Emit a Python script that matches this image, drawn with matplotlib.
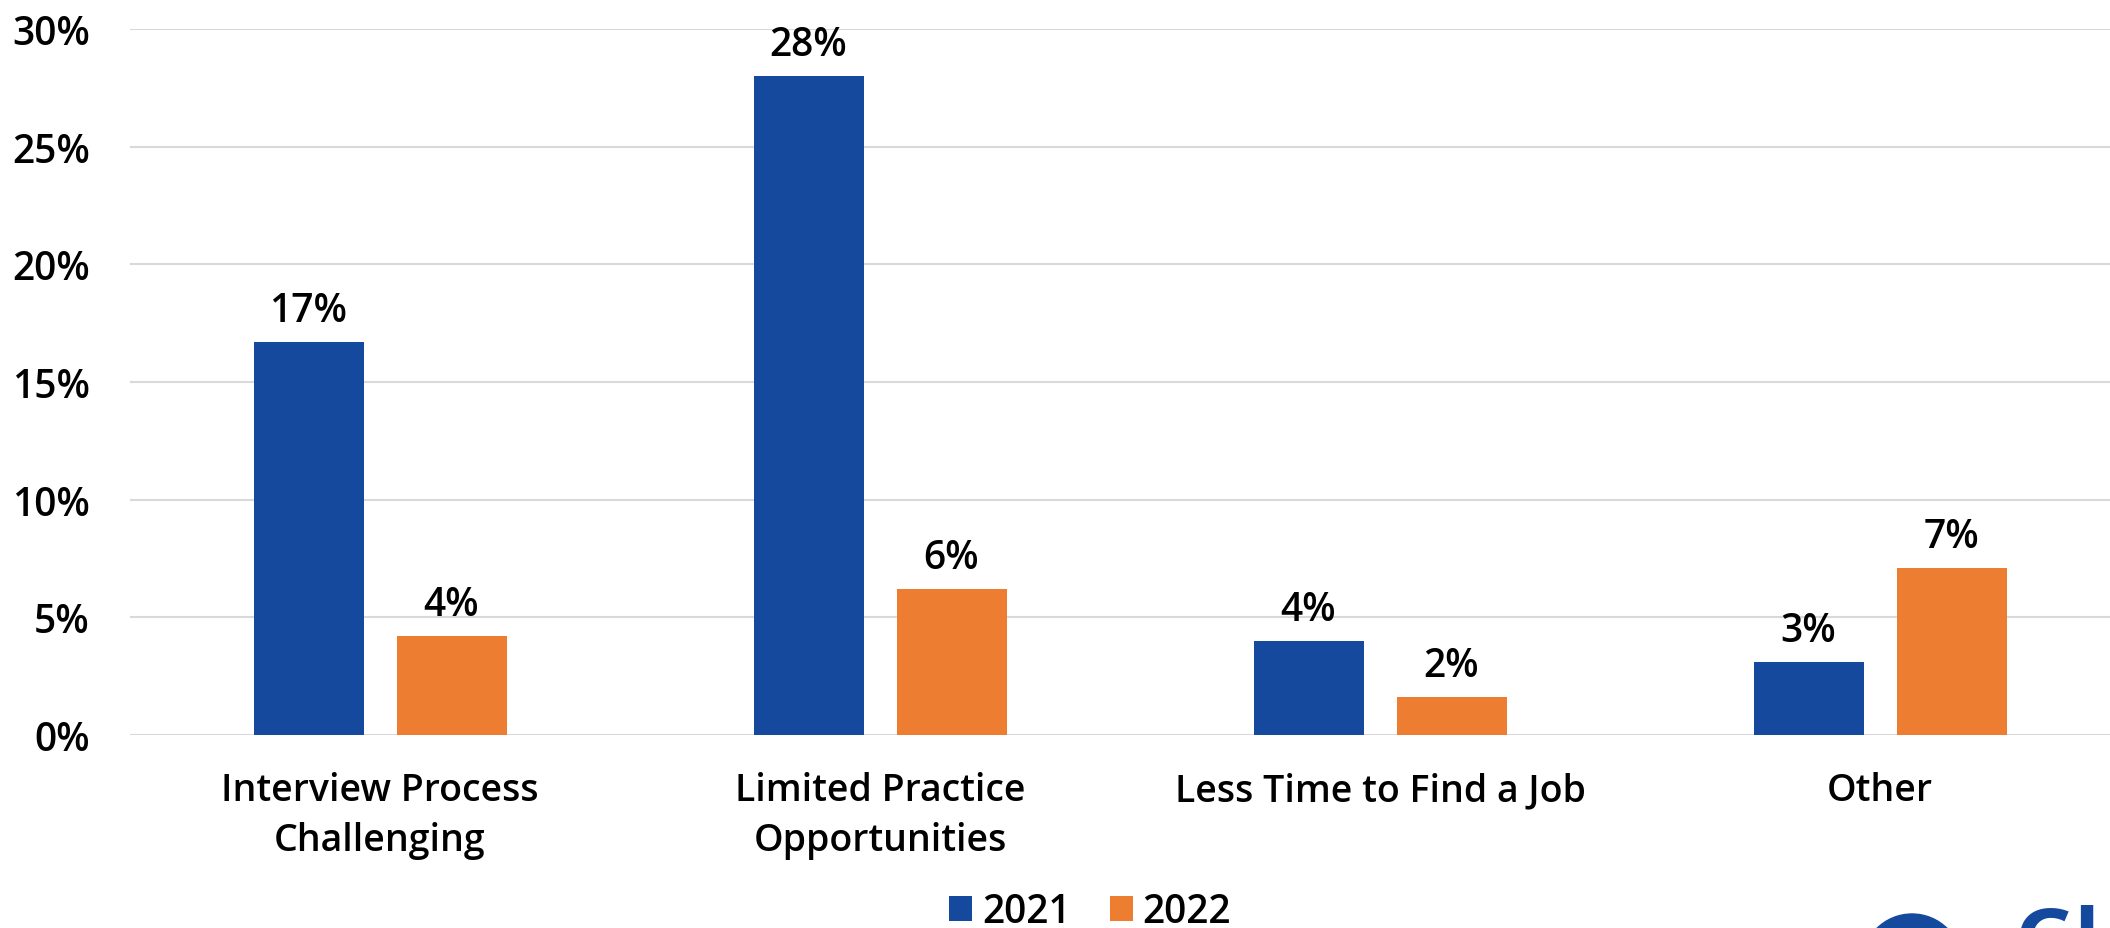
import matplotlib
matplotlib.use("Agg")
import matplotlib.pyplot as plt
from matplotlib.patches import Ellipse
import numpy as np

categories = ["Interview Process\nChallenging", "Limited Practice\nOpportunities",
              "Less Time to Find a Job", "Other"]
series_names = ["2021", "2022"]
values_2021 = [16.7, 28.0, 4.0, 3.1]
values_2022 = [4.2, 6.2, 1.6, 7.1]
yticks = [0, 5, 10, 15, 20, 25, 30]

blue = "#15499D"
orange = "#ED7D31"
grid_c = "#D9D9D9"

plt.rcParams['font.family'] = ['Open Sans', 'DejaVu Sans']
FS = 28
W, H = 2110, 929
fig = plt.figure(figsize=(W / 100, H / 100), dpi=100)
ax = fig.add_axes([130 / W, (H - 736) / H, 2000 / W, 706 / H])

x = np.arange(len(categories))
bw = 0.22
off = 0.143
b1 = ax.bar(x - off, values_2021, bw, color=blue, label=series_names[0], zorder=3)
b2 = ax.bar(x + off, values_2022, bw, color=orange, label=series_names[1], zorder=3)

for bars, vals in ((b1, values_2021), (b2, values_2022)):
    for rect, v in zip(bars, vals):
        ax.annotate(f"{v:.0f}%", (rect.get_x() + rect.get_width() / 2, v),
                    xytext=(0, 8), textcoords="offset points", ha="center", va="bottom",
                    fontsize=FS, fontweight="semibold", color="black")

ax.set_xlim(-0.5, len(categories) - 0.5)
ax.set_ylim(0, 30)
ax.set_yticks(yticks)
ax.set_yticklabels([f"{t}%" for t in yticks], fontsize=FS, fontweight="semibold")
ax.set_xticks(x)
ax.set_xticklabels(categories, fontsize=27, fontweight="semibold", linespacing=1.42)
ax.tick_params(axis="y", length=0, pad=29)
ax.tick_params(axis="x", length=0, pad=26)
ax.yaxis.grid(True, color=grid_c, linewidth=1.5, zorder=0)
for s in ax.spines.values():
    s.set_visible(False)

leg = fig.legend(handles=[b1, b2], labels=series_names, loc="center",
                 bbox_to_anchor=(1090 / W, (H - 913) / H), ncol=2, frameon=False,
                 prop={"size": FS, "weight": "semibold"}, handlelength=0.6, handleheight=0.6,
                 handletextpad=0.25, columnspacing=1.0)

# partial logo at the bottom right
fig.patches.append(Ellipse((1912 / W, (H - 965) / H), 100 / W, 100 / H,
                           transform=fig.transFigure, color=blue, zorder=5))
fig.text(2014 / W, (H - 905) / H, "Gl", color=blue, fontsize=60, fontweight="bold",
         va="top", ha="left")

fig.savefig("out.png", dpi=100)
